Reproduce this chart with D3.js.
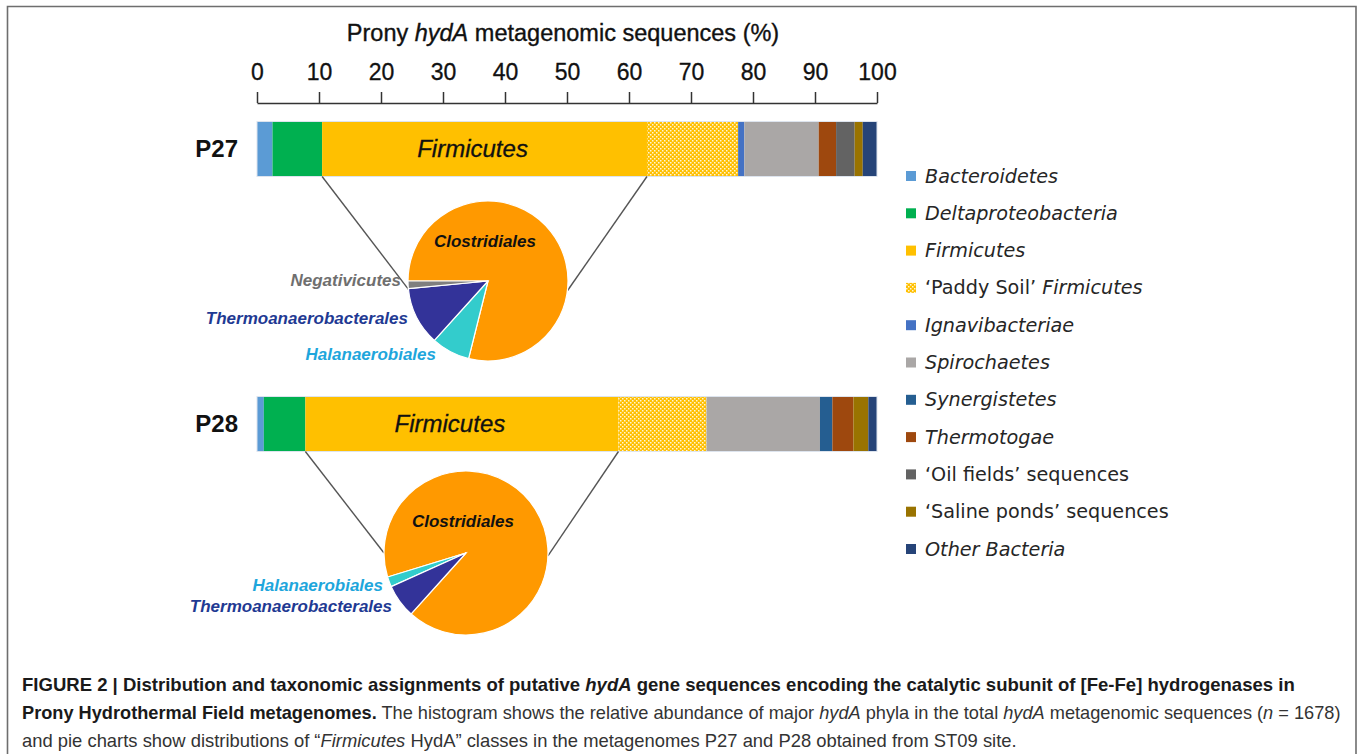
<!DOCTYPE html>
<html>
<head>
<meta charset="utf-8">
<script src="https://cdn.jsdelivr.net/npm/d3@7"></script>
<style>
  html, body { margin: 0; padding: 0; background: #fff; }
  svg { display: block; }
</style>
</head>
<body>
<svg id="vis" width="1360" height="754"></svg>
<script>
// bar categories and their colours
const categories = ["Bacteroidetes", "Deltaproteobacteria", "Firmicutes", "Paddy Soil Firmicutes",
  "Ignavibacteriae", "Spirochaetes", "Synergistetes", "Thermotogae",
  "Oil fields sequences", "Saline ponds sequences", "Other Bacteria"]
const colors = ["#5b9bd5", "#00b050", "#ffc000", "url(#paddy)", "#4472c4", "#aaa7a6",
  "#255e91", "#9e480e", "#636363", "#997300", "#264478"]

// legend text, pieces are [text, italic]
const legendLabels = [
  [["Bacteroidetes", true]],
  [["Deltaproteobacteria", true]],
  [["Firmicutes", true]],
  [["\u2018Paddy Soil\u2019 ", false], ["Firmicutes", true]],
  [["Ignavibacteriae", true]],
  [["Spirochaetes", true]],
  [["Synergistetes", true]],
  [["Thermotogae", true]],
  [["\u2018Oil fields\u2019 sequences", false]],
  [["\u2018Saline ponds\u2019 sequences", false]],
  [["Other Bacteria", true]]
]

const samples = ["P27", "P28"]
const p27Values = [2.5, 8.0, 52.4, 14.7, 1.0, 12.0, 0, 2.8, 3.0, 1.3, 2.3]
const p28Values = [1.1, 6.7, 50.5, 14.2, 0, 18.3, 2.0, 3.4, 0, 2.4, 1.4]
const barValues = [p27Values, p28Values]

const axisTicks = [0, 10, 20, 30, 40, 50, 60, 70, 80, 90, 100]

// pie of Firmicutes classes
const pieClasses = ["Clostridiales", "Halanaerobiales", "Thermoanaerobacterales", "Negativicutes"]
const pieColors = ["#ff9900", "#33cccc", "#333399", "#7f7f7f"]
const labelColors = ["#111111", "#1ea6dc", "#1f3a93", "#6f6f6f"]
const p27Pie = [78.9, 7.8, 11.8, 1.5]
const p28Pie = [91.4, 2.0, 6.6, 0]

const svg = d3.select("#vis")
const deg = Math.PI / 180

// figure frame
svg.append("path")
  .attr("d", "M7.5,760 V6.5 H1356 V760")
  .attr("fill", "none")
  .attr("stroke", "#6e6e6e")
  .attr("stroke-width", 1.6)

// dotted pattern for 'Paddy Soil'
const pat = svg.append("defs").append("pattern")
  .attr("id", "paddy")
  .attr("patternUnits", "userSpaceOnUse")
  .attr("width", 4).attr("height", 4)
pat.append("rect").attr("width", 4).attr("height", 4).attr("fill", "#ffc000")
pat.append("rect").attr("x", 0).attr("y", 0).attr("width", 1.5).attr("height", 1.5).attr("fill", "#fff5d6")
pat.append("rect").attr("x", 2).attr("y", 2).attr("width", 1.5).attr("height", 1.5).attr("fill", "#fff5d6")

// scales
const x = d3.scaleLinear().domain([0, 100]).range([257, 877])
const y = d3.scalePoint().domain(samples).range([149, 424])
const barH = 55

// title
svg.append("text")
  .attr("x", 563).attr("y", 41)
  .attr("text-anchor", "middle")
  .style("font-family", "Liberation Sans, Arial, sans-serif")
  .style("font-size", "23.5px")
  .attr("fill", "#111")
  .attr("stroke", "#111").attr("stroke-width", 0.35)
  .call(t => {
    t.append("tspan").text("Prony ")
    t.append("tspan").style("font-style", "italic").text("hydA")
    t.append("tspan").text(" metagenomic sequences (%)")
  })

// top axis
const axis = svg.append("g")
  .attr("transform", "translate(0,103)")
  .call(d3.axisTop(x).tickValues(axisTicks).tickSize(11).tickSizeOuter(0).tickPadding(12))
axis.select(".domain").attr("stroke", "#333").attr("stroke-width", 1.5)
axis.selectAll(".tick line").attr("stroke", "#333").attr("stroke-width", 1.5)
axis.selectAll(".tick text")
  .style("font-family", "Liberation Sans, Arial, sans-serif")
  .style("font-size", "23px")
  .attr("fill", "#111")
  .attr("stroke", "#111").attr("stroke-width", 0.3)

// stacked bars
samples.forEach((s, si) => {
  const vals = barValues[si]
  const g = svg.append("g")
  const top = y(s) - barH / 2
  let cum = 0
  const segs = vals.map((v, i) => {
    const d = {i: i, x0: cum, x1: cum + v}
    cum += v
    return d
  })
  g.selectAll("rect.seg")
    .data(segs.filter(d => d.x1 > d.x0))
    .join("rect")
    .attr("class", "seg")
    .attr("x", d => x(d.x0))
    .attr("y", top)
    .attr("width", d => x(d.x1) - x(d.x0))
    .attr("height", barH)
    .attr("fill", d => colors[d.i])
  g.append("rect")
    .attr("x", x(0)).attr("y", top)
    .attr("width", x(cum) - x(0)).attr("height", barH)
    .attr("fill", "none")
    .attr("stroke", "#dde4ee").attr("stroke-width", 1)

  // sample label
  svg.append("text")
    .attr("x", x(0) - 19).attr("y", y(s) + 8)
    .attr("text-anchor", "end")
    .style("font-family", "Liberation Sans, Arial, sans-serif")
    .style("font-size", "24px").style("font-weight", "bold")
    .attr("fill", "#111")
    .text(s)

  // Firmicutes label inside its segment
  const firm = segs[2]
  svg.append("text")
    .attr("x", (x(firm.x0) + x(firm.x1)) / 2 - 12).attr("y", y(s) + 8)
    .attr("text-anchor", "middle")
    .style("font-family", "Liberation Sans, Arial, sans-serif")
    .style("font-size", "24px").style("font-style", "italic")
    .attr("fill", "#111")
    .attr("stroke", "#111").attr("stroke-width", 0.3)
    .text("Firmicutes")
})

// pies
const pies = [
  {sample: "P27", vals: p27Pie, cx: 488, cy: 281, r: 80, start: 270, end: 630,
   lines: [186, -7],
   labels: [
     {k: 0, dx: -3, dy: -34, anchor: "middle"},
     {k: 3, dx: -87, dy: 5, anchor: "end"},
     {k: 2, dx: -80, dy: 43, anchor: "end"},
     {k: 1, dx: -52, dy: 79, anchor: "end"}]},
  {sample: "P28", vals: p28Pie, cx: 466, cy: 553, r: 82, start: 582, end: 222,
   lines: [180, -2],
   labels: [
     {k: 0, dx: -3, dy: -26, anchor: "middle"},
     {k: 1, dx: -83, dy: 38, anchor: "end"},
     {k: 2, dx: -74, dy: 59, anchor: "end"}]}
]

pies.forEach(p => {
  const si = samples.indexOf(p.sample)
  const vals = barValues[si]
  const firmStart = d3.sum(vals.slice(0, 2))
  const firmEnd = firmStart + vals[2]
  const bottom = y(p.sample) + barH / 2

  // connector lines from the Firmicutes part of the bar to the pie
  const ends = p.lines.map(a => [p.cx + p.r * Math.cos(a * deg), p.cy - p.r * Math.sin(a * deg)])
  svg.append("line")
    .attr("x1", x(firmStart)).attr("y1", bottom)
    .attr("x2", ends[0][0]).attr("y2", ends[0][1])
    .attr("stroke", "#555").attr("stroke-width", 1.4)
  svg.append("line")
    .attr("x1", x(firmEnd)).attr("y1", bottom)
    .attr("x2", ends[1][0]).attr("y2", ends[1][1])
    .attr("stroke", "#555").attr("stroke-width", 1.4)

  const pie = d3.pie().sort(null).value(d => d.v)
    .startAngle(p.start * deg).endAngle(p.end * deg)
  const arc = d3.arc().innerRadius(0).outerRadius(p.r)
  const data = p.vals.map((v, i) => ({k: i, v: v})).filter(d => d.v > 0)

  svg.append("g")
    .attr("transform", `translate(${p.cx},${p.cy})`)
    .selectAll("path")
    .data(pie(data))
    .join("path")
    .attr("d", arc)
    .attr("fill", d => pieColors[d.data.k])
    .attr("stroke", "#fff").attr("stroke-width", 1.2)

  p.labels.forEach(l => {
    svg.append("text")
      .attr("x", p.cx + l.dx).attr("y", p.cy + l.dy)
      .attr("text-anchor", l.anchor)
      .style("font-family", "Liberation Sans, Arial, sans-serif")
      .style("font-size", "17px").style("font-weight", "bold").style("font-style", "italic")
      .attr("fill", labelColors[l.k])
      .text(pieClasses[l.k])
  })
})

// legend
const legend = svg.append("g").attr("transform", "translate(906,0)")
const ly = d3.scalePoint().domain(categories).range([176, 549])
categories.forEach((c, i) => {
  legend.append("rect")
    .attr("x", 0).attr("y", ly(c) - 5)
    .attr("width", 10).attr("height", 10)
    .attr("fill", colors[i])
  const t = legend.append("text")
    .attr("x", 19).attr("y", ly(c) + 6.5)
    .style("font-family", "DejaVu Sans, Verdana, sans-serif")
    .style("font-size", "19.2px")
    .attr("fill", "#262626")
  legendLabels[i].forEach(part => {
    t.append("tspan").style("font-style", part[1] ? "italic" : "normal").text(part[0])
  })
})

// caption
const capLines = [
  [["FIGURE 2 | Distribution and taxonomic assignments of putative ", "b"], ["hydA", "bi"],
   [" gene sequences encoding the catalytic subunit of [Fe-Fe] hydrogenases in", "b"]],
  [["Prony Hydrothermal Field metagenomes.", "b"],
   [" The histogram shows the relative abundance of major ", "n"], ["hydA", "i"],
   [" phyla in the total ", "n"], ["hydA", "i"], [" metagenomic sequences (", "n"], ["n", "i"], [" = 1678)", "n"]],
  [["and pie charts show distributions of \u201c", "n"], ["Firmicutes", "i"],
   [" HydA\u201d classes in the metagenomes P27 and P28 obtained from ST09 site.", "n"]]
]
const capSizes = [18.55, 18.2, 18.4]
capLines.forEach((line, li) => {
  const t = svg.append("text")
    .attr("x", 22).attr("y", 691 + li * 28)
    .style("font-family", "Liberation Sans, Arial, sans-serif")
    .style("font-size", capSizes[li] + "px")
  line.forEach(part => {
    t.append("tspan")
      .style("font-weight", part[1].includes("b") ? "bold" : "normal")
      .style("font-style", part[1].includes("i") ? "italic" : "normal")
      .attr("fill", part[1].includes("b") ? "#1a1a1a" : "#333")
      .text(part[0])
  })
})
</script>
</body>
</html>
